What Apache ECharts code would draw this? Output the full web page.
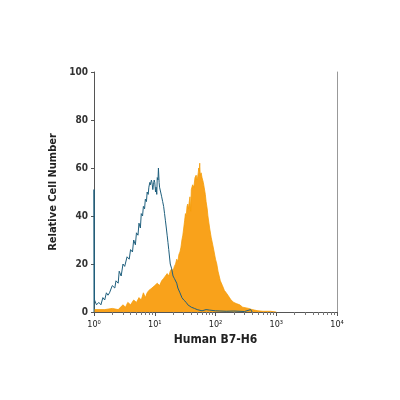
<!DOCTYPE html><html><head><meta charset="utf-8"><script src="https://cdn.jsdelivr.net/npm/echarts@6/dist/echarts.min.js"></script></head><body style="margin:0"><div id="c" style="width:400px;height:400px"></div><script>
var blueX=[1,1.001,1.02,1.1,1.2,1.3,1.4,1.5,1.6,1.7,1.8,2,2.2,2.3,2.5,2.6,2.8,3,3.2,3.5,3.8,4,4.3,4.5,4.8,5,5.3,5.5,5.8,6,6.3,6.5,6.8,7,7.3,7.5,7.8,8,8.3,8.5,8.8,9,9.3,9.5,9.8,10,10.3,10.5,10.8,11,11.3,11.5,11.8,12,12.5,13,13.5,14,14.5,15,15.5,16,16.5,17,18,19,20,21,22,23,24,26,28,30,33,35,40,45,50,60,70,80,100,150,200,300,380,400];
var blueY=[0,51,5,3,4,3,6,5,8,7,8,11,10,13,12,17,15,20,19,23,22,26,25,30,28,33,32,37,35,41,40,44,43,47,46,50,49,52,54,53,55,54,51,53,55,54,50,52,49,56,55,60,54,52,50,48,46,44,41,38,35,32,29,26,20,18,15,14,14,12,10,8,6,5,4,3,2,1.5,1,0.5,1,0.8,0.5,0.3,0.4,0.2,1,0];
var orangeX=[1,1.5,2,2.5,3,3.3,3.6,4,4.5,5,5.5,6,6.5,7,7.5,8,9,10,11,12,13,14,15,16,17,18,19,20,21,22,23,24,25,26,27,28,29,30,31,32,33,34,35,36,37,38,39,40,42,44,46,48,50,52,53,54,55,56,58,60,63,65,68,70,73,75,78,80,85,90,95,100,105,110,115,120,130,140,150,160,170,180,200,220,250,280,300,350,400,500,600,800,1000];
var orangeY=[1,1,1.5,1,3,2,4,3,5,4,6,5,8,6,8,9,10,11,12,11,13,14,15,16,15,17,18,17,19,20,22,21,24,25,27,30,32,35,38,41,40,44,45,43,46,48,42,51,53,52,56,57,55,58,60,59,62,57,58,56,54,52,49,46,43,40,37,35,31,28,25,22,20,17,15,13,11,9,8,7,6,5,4,3.5,3,2,2,1.5,1,0.5,0.3,0.3,0];
var xTicks={1:'10⁰',10:'10¹',100:'10²',1000:'10³',10000:'10⁴'};
function pairs(x,y){return x.map(function(v,i){return [v,y[i]];});}
var ch=echarts.init(document.getElementById('c'));
var f='"Liberation Sans Narrow","DejaVu Sans Condensed",sans-serif';
ch.setOption({animation:false,backgroundColor:'#fff',
grid:{left:94,right:63,top:72,bottom:88},
xAxis:{type:'log',min:1,max:10000,logBase:10,name:'Human B7-H6',nameLocation:'middle',nameGap:22,
nameTextStyle:{fontFamily:f,fontWeight:'bold',fontSize:12,color:'#222'},
axisLine:{lineStyle:{color:'#555'}},axisTick:{length:4,lineStyle:{color:'#555'}},
minorTick:{show:true,splitNumber:9,length:3,lineStyle:{color:'#777'}},
splitLine:{show:false},
axisLabel:{fontFamily:f,fontSize:9,color:'#222',formatter:function(v){return xTicks[Math.round(v)]||'';}}},
yAxis:[{type:'value',min:0,max:100,interval:20,name:'Relative Cell Number',nameLocation:'middle',nameGap:28,
nameTextStyle:{fontFamily:f,fontWeight:'bold',fontSize:11,color:'#222'},
axisLine:{show:true,lineStyle:{color:'#555'}},axisTick:{show:true,length:3,lineStyle:{color:'#555'}},splitLine:{show:false},
axisLabel:{fontFamily:f,fontSize:10,fontWeight:'bold',color:'#333',margin:6}},
{type:'value',min:0,max:100,position:'right',axisLine:{show:true,lineStyle:{color:'#999'}},axisTick:{show:false},axisLabel:{show:false},splitLine:{show:false}}],
series:[
{type:'line',data:pairs(orangeX,orangeY),symbol:'none',lineStyle:{color:'#f59e0b',width:0.8},areaStyle:{color:'#f9a21b',opacity:1},z:2},
{type:'line',data:pairs(blueX,blueY),symbol:'none',lineStyle:{color:'#1f5f7d',width:1},z:3}
]});
</script></body></html>
